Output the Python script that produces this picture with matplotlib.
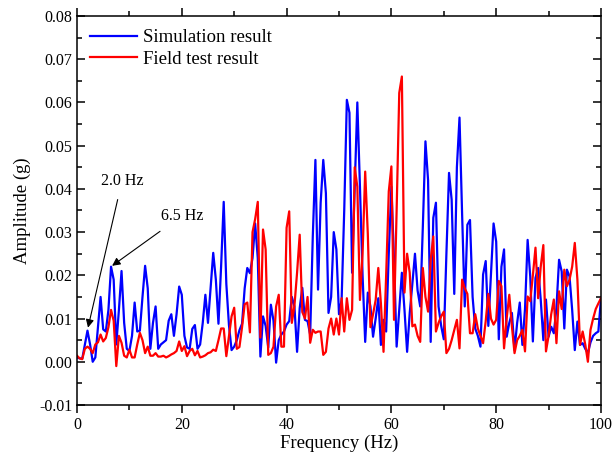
import numpy as np
import matplotlib
matplotlib.use("Agg")
import matplotlib.pyplot as plt
from matplotlib.ticker import MultipleLocator, FormatStrFormatter

plt.rcParams['font.family'] = ['Liberation Serif', 'DejaVu Serif']
plt.rcParams['axes.unicode_minus'] = False

# frequency grid (0.5 Hz resolution)
freq = np.arange(0, 100.5, 0.5)

# simulation result (blue)
sim_amp = [
    0.001, 0.0008, 0.0007, 0.004, 0.0072, 0.004, 0.0, 0.001, 0.008, 0.015,
    0.0075, 0.007, 0.012, 0.022, 0.019, 0.004, 0.012, 0.021, 0.009, 0.003,
    0.0025, 0.006, 0.0137, 0.007, 0.0072, 0.015, 0.0222, 0.017, 0.003, 0.009,
    0.0128, 0.003, 0.004, 0.0045, 0.005, 0.0095, 0.011, 0.006, 0.011, 0.0174,
    0.0155, 0.006, 0.0033, 0.003, 0.0076, 0.0085, 0.003, 0.004, 0.009, 0.0155,
    0.009, 0.017, 0.0252, 0.019, 0.0088, 0.022, 0.037, 0.018, 0.0085, 0.0027,
    0.0035, 0.005, 0.0073, 0.0088, 0.017, 0.0217, 0.0205, 0.024, 0.032, 0.024,
    0.0012, 0.0105, 0.0083, 0.0033, 0.0132, 0.0095, -0.0002, 0.005, 0.0063, 0.007,
    0.0086, 0.0094, 0.015, 0.0128, 0.0023, 0.0124, 0.0171, 0.0097, 0.0094, 0.0063,
    0.029, 0.0467, 0.0167, 0.0368, 0.0467, 0.039, 0.0113, 0.015, 0.03, 0.026,
    0.011, 0.0143, 0.035, 0.0606, 0.0576, 0.0206, 0.04, 0.06, 0.0405, 0.02,
    0.0046, 0.016, 0.0128, 0.0058, 0.01, 0.0147, 0.0039, 0.0097, 0.007, 0.025,
    0.0405, 0.0236, 0.0035, 0.012, 0.0206, 0.012, 0.0023, 0.0113, 0.018, 0.025,
    0.0165, 0.0128, 0.0312, 0.051, 0.042, 0.0046, 0.0333, 0.0368, 0.0128, 0.0083,
    0.0052, 0.025, 0.0437, 0.0375, 0.0157, 0.045, 0.0565, 0.034, 0.0128, 0.0317,
    0.0328, 0.015, 0.0077, 0.006, 0.0035, 0.0202, 0.0233, 0.0083, 0.02, 0.032,
    0.0278, 0.0052, 0.022, 0.026, 0.0058, 0.009, 0.0113, 0.0027, 0.009, 0.0137,
    0.0039, 0.0122, 0.0282, 0.0197, 0.0047, 0.0194, 0.0217, 0.0144, 0.005, 0.0144,
    0.0058, 0.0081, 0.0066, 0.0125, 0.0236, 0.0209, 0.0077, 0.0213, 0.0197, 0.012,
    0.0027, 0.0093, 0.0039, 0.0043, 0.003, 0.002, 0.0045, 0.006, 0.0066, 0.007,
    0.0147,
]

# field test result (red)
test_amp = [
    0.0014, 0.0008, 0.0006, 0.003, 0.0035, 0.003, 0.002, 0.004, 0.0045, 0.0063,
    0.0047, 0.0055, 0.008, 0.012, 0.0095, -0.001, 0.006, 0.0044, 0.0014, 0.001,
    0.0028, 0.001, 0.001, 0.004, 0.0067, 0.005, 0.002, 0.0035, 0.0014, 0.0014,
    0.002, 0.0012, 0.0012, 0.0014, 0.001, 0.0013, 0.0017, 0.002, 0.0025, 0.0047,
    0.0025, 0.0036, 0.0013, 0.0025, 0.003, 0.0015, 0.0025, 0.001, 0.0012, 0.0015,
    0.002, 0.0022, 0.0028, 0.0025, 0.005, 0.0077, 0.0077, 0.0013, 0.006, 0.0105,
    0.0125, 0.003, 0.0034, 0.008, 0.0133, 0.0137, 0.0068, 0.03, 0.033, 0.037,
    0.0056, 0.0306, 0.026, 0.0016, 0.002, 0.0035, 0.0128, 0.0155, 0.0035, 0.0035,
    0.031, 0.0348, 0.009, 0.013, 0.0206, 0.0294, 0.0115, 0.010, 0.015, 0.0044,
    0.0074, 0.0067, 0.007, 0.007, 0.0016, 0.0023, 0.0077, 0.010, 0.0063, 0.010,
    0.0063, 0.0147, 0.007, 0.0147, 0.0097, 0.012, 0.045, 0.0405, 0.0143, 0.025,
    0.044, 0.0296, 0.008, 0.011, 0.0143, 0.0217, 0.0135, 0.0023, 0.02, 0.0394,
    0.0452, 0.0097, 0.035, 0.0622, 0.066, 0.016, 0.025, 0.0206, 0.0082, 0.0086,
    0.006, 0.0046, 0.0217, 0.015, 0.0116, 0.0236, 0.029, 0.007, 0.009, 0.0105,
    0.0116, 0.002, 0.003, 0.005, 0.0074, 0.0097, 0.0031, 0.019, 0.017, 0.0157,
    0.0066, 0.0066, 0.011, 0.0077, 0.006, 0.0043, 0.0094, 0.0157, 0.01, 0.0086,
    0.0097, 0.0187, 0.0175, 0.0031, 0.01, 0.0155, 0.0082, 0.002, 0.005, 0.006,
    0.0074, 0.0024, 0.0151, 0.014, 0.02, 0.0264, 0.0147, 0.022, 0.027, 0.0024,
    0.006, 0.011, 0.0144, 0.0043, 0.0163, 0.0122, 0.0213, 0.0175, 0.019, 0.022,
    0.0275, 0.019, 0.0039, 0.007, 0.004, 0.0, 0.0074, 0.01, 0.0122, 0.0135,
    0.0147,
]

fig = plt.figure(figsize=(6.13, 4.57), dpi=100)
ax = fig.add_axes([0.1256, 0.1138, 0.8548, 0.8512])

ax.plot(freq, sim_amp, color='#0000ff', lw=1.6, label='Simulation result')
ax.plot(freq, test_amp, color='#ff0000', lw=1.6, label='Field test result')

ax.set_xlim(0, 100)
ax.set_ylim(-0.01, 0.08)
ax.xaxis.set_major_locator(MultipleLocator(20))
ax.xaxis.set_minor_locator(MultipleLocator(10))
ax.yaxis.set_major_locator(MultipleLocator(0.01))
ax.yaxis.set_minor_locator(MultipleLocator(0.005))
ax.yaxis.set_major_formatter(FormatStrFormatter('%.2f'))

for s in ax.spines.values():
    s.set_linewidth(1.1)
ax.tick_params(which='both', direction='out', width=1.1, labelsize=11.5,
               top=True, right=True)
ax.tick_params(which='major', length=5.5)
ax.tick_params(which='minor', length=3.5)
ax.tick_params(axis='x', which='both', top=True)
ax.tick_params(axis='y', which='both', right=True, direction='in')
ax.tick_params(axis='y', which='both', left=True)

ax.set_xlabel('Frequency (Hz)', fontsize=13.5, labelpad=1)
ax.set_ylabel('Amplitude (g)', fontsize=13.5, labelpad=6)

ax.legend(loc='upper left', frameon=False, fontsize=13.5, handlelength=2.5,
          handletextpad=0.3, labelspacing=0.25, borderaxespad=0.3,
          bbox_to_anchor=(0.0, 1.0))

ax.annotate('2.0 Hz', xy=(2.1, 0.0079), xytext=(8.6, 0.0419),
            ha='center', va='center', fontsize=11.5,
            arrowprops=dict(arrowstyle='-|>', color='black', lw=0.8,
                            mutation_scale=12, shrinkA=6, shrinkB=0))
ax.annotate('6.5 Hz', xy=(6.7, 0.0222), xytext=(20.0, 0.0338),
            ha='center', va='center', fontsize=11.5,
            arrowprops=dict(arrowstyle='-|>', color='black', lw=0.8,
                            mutation_scale=12, shrinkA=6, shrinkB=0))

plt.savefig('out.png', dpi=100, facecolor='white')
